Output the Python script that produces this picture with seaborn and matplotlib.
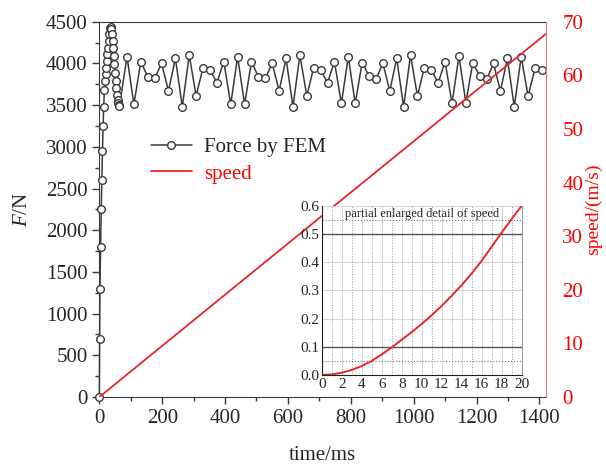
import numpy as np
import pandas as pd
import matplotlib
matplotlib.use("Agg")
import matplotlib.pyplot as plt
import seaborn as sns

# --- Data ---
force_time = [0, 1, 2, 4, 6, 8, 10, 12, 14, 16, 18, 20, 22, 24, 26, 28, 30, 32,
              34, 36, 38, 40, 42, 44, 46, 48, 50, 52, 54, 56, 58, 60, 62, 64,
              88, 110, 132, 154, 176, 198, 220, 242, 264, 286, 308, 330, 352,
              374, 396, 418, 440, 462, 484, 506, 528, 550, 572, 594, 616, 638,
              660, 682, 704, 726, 748, 770, 792, 814, 836, 858, 880, 902, 924,
              946, 968, 990, 1012, 1034, 1056, 1078, 1100, 1122, 1144, 1166,
              1188, 1210, 1232, 1254, 1276, 1298, 1320, 1342, 1364, 1386, 1408]
force_value = [0, 700, 1300, 1800, 2250, 2600, 2950, 3250, 3480, 3680, 3790,
               3870, 3950, 4030, 4110, 4190, 4270, 4350, 4420, 4440, 4410,
               4350, 4270, 4180, 4090, 3990, 3890, 3790, 3700, 3620, 3560,
               3520, 3500, 3490,
               4080, 3510, 4020, 3840, 3820, 4000, 3670, 4060, 3480, 4100,
               3610, 3950, 3920, 3770, 4020, 3510, 4080, 3510, 4020, 3840,
               3820, 4000, 3670, 4060, 3480, 4100, 3610, 3950, 3920, 3770,
               4020, 3520, 4080, 3520, 4010, 3850, 3810, 4000, 3670, 4060,
               3480, 4100, 3610, 3950, 3920, 3770, 4020, 3520, 4090, 3530,
               4010, 3850, 3810, 4000, 3670, 4060, 3480, 4080, 3610, 3940, 3920]

speed_time = [0, 700, 1420]
speed_value = [0, 33.4, 67.7]

detail_time = [0, 1, 2, 3, 4, 5, 6, 7, 8, 9, 10, 11, 12, 13, 14, 15, 16, 17,
               18, 19, 20]
detail_speed = [0, 0.002, 0.008, 0.018, 0.032, 0.05, 0.073, 0.098, 0.125,
                0.152, 0.181, 0.212, 0.245, 0.281, 0.319, 0.36, 0.405, 0.455,
                0.505, 0.553, 0.6]

df_force = pd.DataFrame({"time": force_time, "force": force_value})
df_speed = pd.DataFrame({"time": speed_time, "speed": speed_value})
df_detail = pd.DataFrame({"time": detail_time, "speed": detail_speed})

# --- Style ---
sns.set_style("ticks")
plt.rcParams["font.family"] = ["Liberation Serif", "DejaVu Serif"]
plt.rcParams["mathtext.fontset"] = "custom"
plt.rcParams["mathtext.rm"] = "Liberation Serif"
plt.rcParams["mathtext.it"] = "Liberation Serif:italic"

RED = "#e8262a"
GRAY = "#3a3a3a"

fig = plt.figure(figsize=(6.06, 4.70), dpi=100)
ax = fig.add_axes([0.1639, 0.1553, 0.7366, 0.7985])

# --- Force by FEM ---
sns.lineplot(data=df_force, x="time", y="force", ax=ax, color=GRAY,
             linewidth=1.1, marker="o", markersize=5.5,
             markerfacecolor="white", markeredgecolor=GRAY,
             markeredgewidth=1.0, estimator=None, sort=False,
             label="Force by FEM", legend=False, clip_on=False, zorder=4)
ax.set_xlim(0, 1420)
ax.set_ylim(0, 4500)
ax.set_xticks(range(0, 1401, 200))
ax.set_xticks(range(100, 1401, 200), minor=True)
ax.set_yticks(range(0, 4501, 500))
ax.set_yticks(range(250, 4500, 500), minor=True)
ax.tick_params(axis="both", which="major", labelsize=15, length=5,
               color=GRAY, width=1)
ax.tick_params(axis="both", which="minor", length=3, color=GRAY, width=1)
ax.set_xlabel("time/ms", fontsize=15, labelpad=13)
ax.set_ylabel("$F$/N", fontsize=15, labelpad=10)
for s in ["left", "bottom", "top"]:
    ax.spines[s].set_color(GRAY)
ax.spines["right"].set_visible(False)

# --- Speed ---
ax2 = ax.twinx()
sns.lineplot(data=df_speed, x="time", y="speed", ax=ax2, color=RED,
             linewidth=1.3, estimator=None, label="speed", legend=False)
ax2.set_ylim(0, 70)
ax2.set_yticks(range(0, 71, 10))
ax2.tick_params(axis="y", labelsize=15, labelcolor="red", length=0, pad=12)
ax2.set_ylabel("speed/(m/s)", fontsize=14, color="red", labelpad=1)
ax2.spines["right"].set_color("#e07878")
for s in ["left", "bottom", "top"]:
    ax2.spines[s].set_visible(False)

# --- Legend ---
h1 = ax.get_lines()[0]
h2 = ax2.get_lines()[0]
leg = ax.legend([h1, h2], ["Force by FEM", "speed"], loc="upper left",
                bbox_to_anchor=(0.115, 0.692), frameon=False, fontsize=15,
                handlelength=2.0, handletextpad=0.55, borderpad=0,
                borderaxespad=0, labelspacing=0.35)
leg.get_texts()[1].set_color("red")
leg.set_zorder(5)

# --- Inset: partial enlarged detail of speed ---
axin = fig.add_axes([0.5309, 0.2021, 0.3300, 0.3602])
axin.set_facecolor("white")
axin.set_xlim(0, 20)
axin.set_ylim(0, 0.6)
axin.set_xticks(range(0, 21, 2))
axin.set_xticks(range(1, 20, 2), minor=True)
axin.set_yticks(np.round(np.arange(0, 0.61, 0.1), 1))
axin.set_yticklabels(["0.0", "0.1", "0.2", "0.3", "0.4", "0.5", "0.6"])
axin.grid(which="major", color="#d4d4d4", linewidth=0.7)
axin.grid(which="minor", axis="x", color="#9a9a9a", linewidth=0.7,
          linestyle=":")
for yv in [0.1, 0.5]:
    axin.axhline(yv, color="#555555", linewidth=1.0)
for yv in [0.05, 0.55]:
    axin.axhline(yv, color="#777777", linewidth=0.8, linestyle=":")
sns.lineplot(data=df_detail, x="time", y="speed", ax=axin, color=RED,
             linewidth=1.4, estimator=None, legend=False)
axin.set_xlabel("")
axin.set_ylabel("")
axin.tick_params(axis="both", which="both", labelsize=11, length=0, pad=2)
axin.spines["top"].set_visible(False)
axin.spines["right"].set_color("#9a9a9a")
axin.spines["left"].set_color("#222222")
axin.spines["bottom"].set_color("#222222")
axin.text(0.5, 0.985, "partial enlarged detail of speed", transform=axin.transAxes,
          ha="center", va="top", fontsize=9)

fig.savefig("out.png", dpi=100)
